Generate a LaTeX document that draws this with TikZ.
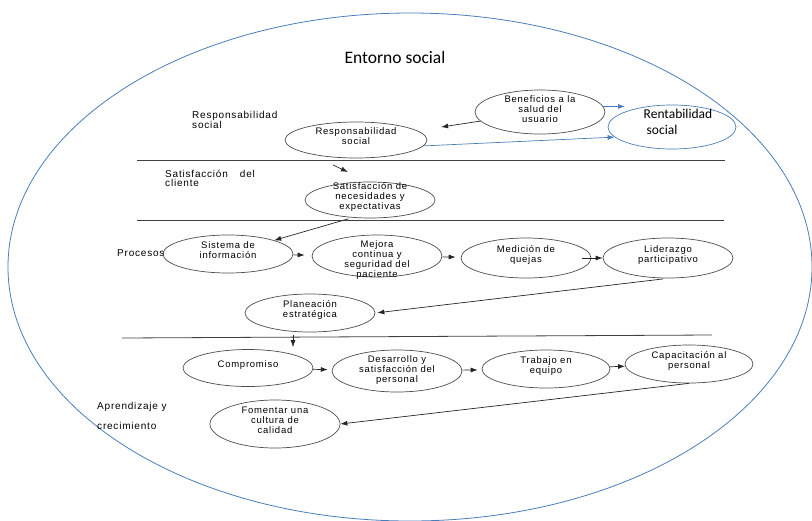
\documentclass[tikz,border=0pt]{standalone}
\usepackage{fontspec}
\setmainfont{Liberation Sans}
\newfontfamily\spaced[LetterSpace=8]{Liberation Sans}
\newfontfamily\calib{Carlito}
\usetikzlibrary{shapes.geometric, arrows.meta}
\newcommand{\etxt}[1]{\smash{\makebox[0pt]{\begin{tabular}{@{}c@{}}#1\end{tabular}}}}
\newcommand{\ltxt}[1]{\begin{tabular}[t]{@{}l@{}}#1\end{tabular}}
\begin{document}
\begin{tikzpicture}[x=1pt, y=-1pt, >={Latex[length=7pt, width=5pt]}, font=\spaced\fontsize{9.5}{10}\selectfont,
    proc/.style={ellipse, draw=black!70, line width=0.7pt, inner sep=0pt, minimum width=130pt, minimum height=38pt},
    arr/.style={->, black!85, line width=0.7pt},
    blu/.style={->, wordblue, line width=0.7pt},
    lbl/.style={anchor=base west, inner sep=0pt, font=\spaced\fontsize{10}{10.5}\selectfont},
    divider/.style={black!75, line width=0.8pt}]
    \definecolor{wordblue}{RGB}{74, 126, 187} % Blue

    \useasboundingbox (0,0) rectangle (812,520);

    % Outer ellipse
    \draw[wordblue, line width=0.8pt] (410,267) ellipse [x radius=402pt, y radius=254pt];
    \node[font=\calib\fontsize{17.5}{20}\selectfont, anchor=base] (ent) at (395,63) {Entorno social};

    % Dividers
    \draw[divider] (137,160) -- (725,160);
    \draw[divider] (137,220) -- (724,220);
    \draw[divider] (122,338) -- (712,335);

    % Labels
    \node[lbl] (lresp) at (192,118) {\ltxt{Responsabilidad\\social}};
    \node[lbl] (lsat) at (165,177) {\ltxt{Satisfacción\hspace{12pt}del\\[-1pt]cliente}};
    \node[lbl] (lproc) at (117,256) {Procesos};
    \node[lbl] (lapr) at (97,409) {\ltxt{Aprendizaje y\\[10pt]crecimiento}};

    % Nodes
    \node[proc, minimum width=142pt, minimum height=36pt] (resp) at (356,140) {\etxt{Responsabilidad\\social}};
    \node[proc, minimum height=44pt] (ben) at (540,112) {\raisebox{-2pt}{\etxt{Beneficios a la\\salud del\\usuario}}};
    \node[proc, draw=wordblue, minimum width=128pt, minimum height=44pt, font=\calib\fontsize{13.5}{15.5}\selectfont] (rent) at (672,127)
        {\smash{\makebox[0pt]{\hspace{12pt}\begin{tabular}{@{}l@{}}Rentabilidad\\\hspace{3pt}social\end{tabular}}}};
    \node[proc, minimum height=36pt] (sat) at (370,200) {\etxt{Satisfacción de\\necesidades y\\expectativas}};
    \node[proc] (sis) at (228,254) {\etxt{Sistema de\\información}};
    \node[proc, minimum height=42pt] (mej) at (377,256) {\raisebox{-13pt}{\etxt{Mejora\\continua y\\seguridad del\\paciente}}};
    \node[proc, minimum height=40pt] (med) at (526,258) {\etxt{Medición de\\quejas}};
    \node[proc, minimum height=40pt] (lid) at (668,258) {\etxt{Liderazgo\\participativo}};
    \node[proc] (pla) at (310,313) {\etxt{Planeación\\estratégica}};
    \node[proc, minimum height=37pt] (com) at (248,368) {\etxt{Compromiso}};
    \node[proc, minimum height=42pt] (des) at (397,371) {\raisebox{-3pt}{\etxt{Desarrollo y\\satisfacción del\\personal}}};
    \node[proc, minimum width=128pt] (tra) at (546,369) {\etxt{Trabajo en\\equipo}};
    \node[proc, minimum width=128pt] (cap) at (689,364) {\etxt{Capacitación al\\personal}};
    \node[proc, minimum height=48pt] (fom) at (275,424) {\etxt{Fomentar una\\cultura de\\calidad}};

    % Arrows
    \coordinate (rtop) at (625,106);
    \coordinate (satin) at (333,165);
    \draw[arr, shorten >=24pt] (ben) -- (resp);
    \draw[blu] (ben.5) -- (ben.5 -| rtop);
    \draw[blu] (resp.-5) -- (rent.190);
    \draw[arr] (satin) -- ++(15,7);
    \draw[arr, shorten <=4pt] (sat.225) -- (sis.north east);
    \draw[arr, shorten >=7pt] (sis) -- (mej);
    \draw[arr, shorten >=5pt] (mej) -- (med);
    \draw[arr] ([xshift=-9pt]med.east) -- (lid.west);
    \draw[arr, shorten <=5pt, shorten >=2pt] (lid.south) -- (pla.east);
    \draw[arr, shorten <=3pt, shorten >=2pt] ([xshift=-17pt]pla.south) -- ([xshift=45pt]com.north);
    \draw[arr, shorten >=4pt] (com) -- (des);
    \draw[arr, shorten >=4pt] (des) -- (tra);
    \draw[arr] (tra) -- (cap);
    \draw[arr] (cap.south) -- (fom.east);
\end{tikzpicture}
\end{document}
